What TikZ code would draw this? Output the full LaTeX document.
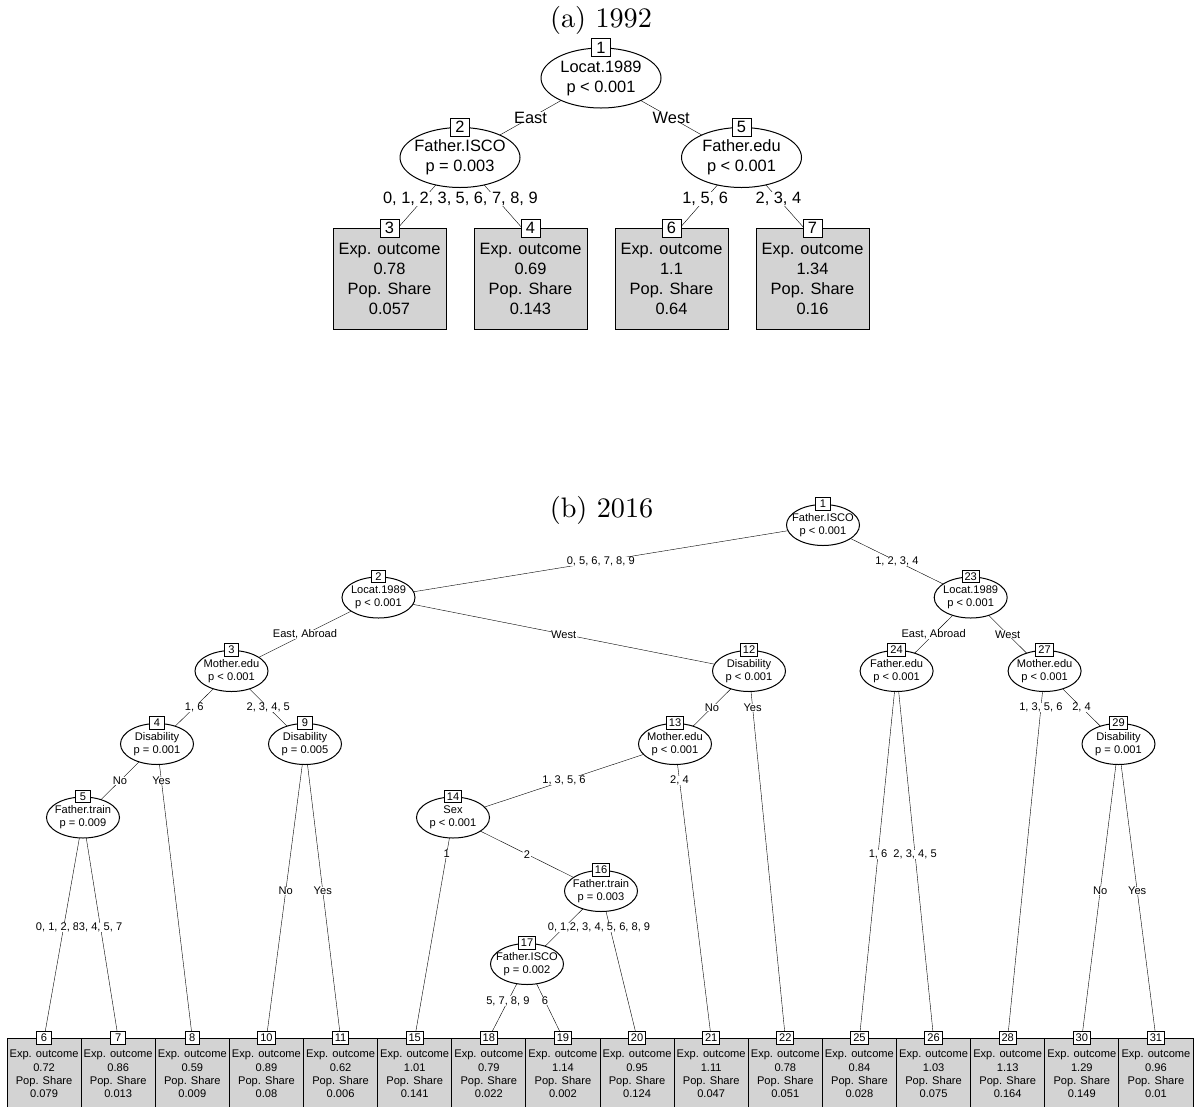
\documentclass[tikz,border=0pt]{standalone}
\usepackage{fontspec}
\newfontfamily\arial{Liberation Sans}
\newfontfamily\ttlfont{lmroman10-regular.otf}
\usepackage{tikz}
\usetikzlibrary{shapes.geometric, backgrounds}
\definecolor{leafgray}{HTML}{D3D3D3}
\newcommand\bigtxt{\arial\fontsize{16.4}{20}\selectfont}
\newcommand\smalltxt{\arial\fontsize{11.1}{13.2}\selectfont}
\newcommand\spl[2]{\makebox[0pt]{\begin{tabular}{@{}c@{}}#1\\#2\end{tabular}}}

\begin{document}
\begin{tikzpicture}[x=1pt, y=-1pt, line width=1pt,
    ttl/.style={inner sep=0pt, font=\ttlfont\fontsize{28.2}{34}\selectfont},
    asp/.style={ellipse, draw, fill=white, inner sep=0pt, minimum width=120pt,
                minimum height=60pt, font=\bigtxt},
    alf/.style={rectangle, draw, fill=leafgray, anchor=north, align=center,
                minimum width=113pt, minimum height=101pt, inner sep=0pt, font=\bigtxt},
    anr/.style={rectangle, draw, fill=white, minimum width=19pt, minimum height=18pt,
                inner sep=1pt, font=\bigtxt},
    ael/.style={fill=white, pos=.5, inner xsep=1pt, inner ysep=0pt, font=\bigtxt},
    bsp/.style={ellipse, draw, fill=white, inner sep=0pt, minimum width=73pt,
                minimum height=41pt, font=\smalltxt},
    blf/.style={rectangle, draw, fill=leafgray, anchor=north, align=center,
                minimum width=74.125pt, minimum height=71pt, inner sep=0pt, font=\smalltxt},
    bnr/.style={rectangle, draw, fill=white, minimum width=14.5pt, minimum height=12.5pt,
                inner xsep=2.5pt, inner ysep=1pt, font=\smalltxt},
    bel/.style={fill=white, pos=.5, inner xsep=0.7pt, inner ysep=0pt, font=\smalltxt}]
  \useasboundingbox (0,0) rectangle (1194,1106);

  \node[ttl] (ta) at (601,20) {(a) 1992};
  \node[asp] (a1) at (601,78) {\spl{Locat.1989}{p < 0.001}};
  \node[anr] at (a1.north) {1};
  \node[asp] (a2) at (460,157.5) {\spl{Father.ISCO}{p = 0.003}};
  \node[anr] at (a2.north) {2};
  \node[asp] (a5) at (741.5,157.5) {\spl{Father.edu}{p < 0.001}};
  \node[anr] at (a5.north) {5};
  \node[alf] (a3) at (389.5,228) {Exp. outcome\\0.78\\Pop. Share\\0.057};
  \node[anr] (a3n) at (a3.north) {3};
  \node[alf] (a4) at (530.5,228) {Exp. outcome\\0.69\\Pop. Share\\0.143};
  \node[anr] (a4n) at (a4.north) {4};
  \node[alf] (a6) at (671.5,228) {Exp. outcome\\1.1\\Pop. Share\\0.64};
  \node[anr] (a6n) at (a6.north) {6};
  \node[alf] (a7) at (812.5,228) {Exp. outcome\\1.34\\Pop. Share\\0.16};
  \node[anr] (a7n) at (a7.north) {7};

  \node[ttl] (tb) at (601.5,510) {(b) 2016};
  \node[bsp] (b1) at (823,525) {\spl{Father.ISCO}{p < 0.001}};
  \node[bsp] (b2) at (378.5,597.5) {\spl{Locat.1989}{p < 0.001}};
  \node[bsp] (b23) at (970.7,597.5) {\spl{Locat.1989}{p < 0.001}};
  \node[bsp] (b3) at (231.5,671) {\spl{Mother.edu}{p < 0.001}};
  \node[bsp] (b12) at (749,671) {\spl{Disability}{p < 0.001}};
  \node[bsp] (b24) at (896.6,671) {\spl{Father.edu}{p < 0.001}};
  \node[bsp] (b27) at (1044.6,671) {\spl{Mother.edu}{p < 0.001}};
  \node[bsp] (b4) at (157,744) {\spl{Disability}{p = 0.001}};
  \node[bsp] (b9) at (305,744) {\spl{Disability}{p = 0.005}};
  \node[bsp] (b13) at (675,744) {\spl{Mother.edu}{p < 0.001}};
  \node[bsp] (b29) at (1118.5,744) {\spl{Disability}{p = 0.001}};
  \node[bsp] (b5) at (83,817.5) {\spl{Father.train}{p = 0.009}};
  \node[bsp] (b14) at (453,817.5) {\spl{Sex}{p < 0.001}};
  \node[bsp] (b16) at (601,891) {\spl{Father.train}{p = 0.003}};
  \node[bsp] (b17) at (527,964) {\spl{Father.ISCO}{p = 0.002}};
  \foreach \id in {1,2,23,3,12,24,27,4,9,13,29,5,14,16,17}
    \node[bnr] at (b\id.north) {\id};
  \foreach \id/\ix/\mv/\sh in {6/0/0.72/0.079, 7/1/0.86/0.013, 8/2/0.59/0.009,
      10/3/0.89/0.08, 11/4/0.62/0.006, 15/5/1.01/0.141, 18/6/0.79/0.022,
      19/7/1.14/0.002, 20/8/0.95/0.124, 21/9/1.11/0.047, 22/10/0.78/0.051,
      25/11/0.84/0.028, 26/12/1.03/0.075, 28/13/1.13/0.164, 30/14/1.29/0.149,
      31/15/0.96/0.01} {
    \node[blf] (l\id) at ({44.0625+74.125*\ix},1038) {Exp. outcome\\\mv\\Pop. Share\\\sh};
    \node[bnr] (n\id) at (l\id.north) {\id};
  }

  \begin{pgfonlayer}{background}
    \draw (a1.center) -- (a2.center) node[ael] {East};
    \draw (a1.center) -- (a5.center) node[ael] {West};
    \draw (a2.center) -- (a3n.south) node[ael, pos=.52, anchor=west, xshift=-41.5pt] {0, 1, 2, 3,};
    \draw (a2.center) -- (a4n.south) node[ael, pos=.52] {5, 6, 7, 8, 9};
    \draw (a5.center) -- (a6n.south) node[ael, pos=.52] {1, 5, 6};
    \draw (a5.center) -- (a7n.south) node[ael, pos=.52] {2, 3, 4};

    \draw (b1.center) -- (b2.center) node[bel] {0, 5, 6, 7, 8, 9};
    \draw (b1.center) -- (b23.center) node[bel] {1, 2, 3, 4};
    \draw (b2.center) -- (b3.center) node[bel] {East, Abroad};
    \draw (b2.center) -- (b12.center) node[bel] {West};
    \draw (b23.center) -- (b24.center) node[bel] {East, Abroad};
    \draw (b23.center) -- (b27.center) node[bel] {West};
    \draw (b3.center) -- (b4.center) node[bel] {1, 6};
    \draw (b3.center) -- (b9.center) node[bel] {2, 3, 4, 5};
    \draw (b12.center) -- (b13.center) node[bel] {No};
    \draw (b12.center) -- (n22.center) node[bel, pos=.1] {Yes};
    \draw (b24.center) -- (n25.center) node[bel] {1, 6};
    \draw (b24.center) -- (n26.center) node[bel] {2, 3, 4, 5};
    \draw (b27.center) -- (n28.center) node[bel, pos=.1] {1, 3, 5, 6};
    \draw (b27.center) -- (b29.center) node[bel] {2, 4};
    \draw (b4.center) -- (b5.center) node[bel] {No};
    \draw (b4.center) -- (n8.center) node[bel, pos=.124] {Yes};
    \draw (b9.center) -- (n10.center) node[bel] {No};
    \draw (b9.center) -- (n11.center) node[bel] {Yes};
    \draw (b13.center) -- (b14.center) node[bel] {1, 3, 5, 6};
    \draw (b13.center) -- (n21.center) node[bel, pos=.124] {2, 4};
    \draw (b29.center) -- (n30.center) node[bel] {No};
    \draw (b29.center) -- (n31.center) node[bel] {Yes};
    \draw (b5.center) -- (n6.center) node[bel, anchor=west, xshift=-28.5pt] {0, 1, 2, 8};
    \draw (b5.center) -- (n7.center) node[bel] {3, 4, 5, 7};
    \draw (b14.center) -- (n15.center) node[bel, pos=.166] {1};
    \draw (b14.center) -- (b16.center) node[bel] {2};
    \draw (b16.center) -- (b17.center) node[bel, anchor=west, xshift=-17pt] {0, 1,};
    \draw (b16.center) -- (n20.center) node[bel, pos=.25] {2, 3, 4, 5, 6, 8, 9};
    \draw (b17.center) -- (n18.center) node[bel] {5, 7, 8, 9};
    \draw (b17.center) -- (n19.center) node[bel] {6};
  \end{pgfonlayer}
\end{tikzpicture}
\end{document}
